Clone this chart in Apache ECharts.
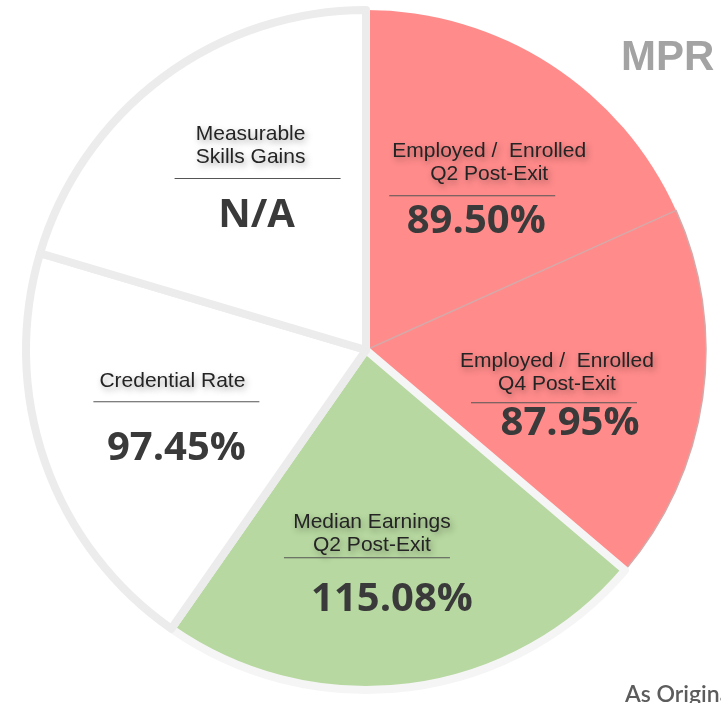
<!DOCTYPE html>
<html>
<head>
<meta charset="utf-8">
<script src="https://cdn.jsdelivr.net/npm/echarts@6/dist/echarts.min.js"></script>
<style>
html,body{margin:0;padding:0;background:#fff;}
#chart{width:721px;height:703px;}
</style>
</head>
<body>
<div id="chart"></div>
<script>
// ---- data ----
const categories = [
  'Employed /  Enrolled\nQ2 Post-Exit',
  'Employed /  Enrolled\nQ4 Post-Exit',
  'Median Earnings\nQ2 Post-Exit',
  'Credential Rate',
  'Measurable\nSkills Gains'
];
const valueLabels = ['89.50%', '87.95%', '115.08%', '97.45%', 'N/A'];
// slice sizes follow the rates; the N/A segment uses a 100 placeholder
const sliceValues = [89.50, 87.95, 115.08, 97.45, 100];
const status = ['below', 'below', 'above', 'none', 'none'];
const titleText = 'MPR';
const footText = 'As Originally Submitted';

// ---- styles / layout ----
const fill = { below: '#ff8b8b', above: '#b7d8a0', none: '#ffffff' };
const CX = 366, CY = 350, R = 340;
// per-segment label tuning:
// [offsetX, offsetY, gap above rule, gap below rule, title shift, value shift]
const labelTune = [
  [-4, 11, 9.5, 5, 17, 4],
  [-13, 18, 6.5, 0, 3, 16],
  [-25, 14, 0, 21, 5, 25],
  [2, 2, 8.5, 26, -4, 0],
  [13, -8, 8.5, 16, -7, -1]
];

function shiftPad(s) {
  return s >= 0 ? [0, 0, 0, 2 * s] : [0, -2 * s, 0, 0];
}

let belowCount = 0;
const shapeData = categories.map((name, i) => {
  let bc, bw;
  if (status[i] === 'below') {
    if (belowCount === 0) { bc = fill.below; bw = 0; } else { bc = '#d6a8a8'; bw = 1.5; }
    belowCount++;
  } else if (status[i] === 'above') { bc = '#f5f5f5'; bw = 8; }
  else { bc = '#ececec'; bw = 8; }
  return {
    name: name,
    value: sliceValues[i],
    itemStyle: { color: fill[status[i]], borderColor: bc, borderWidth: bw }
  };
});

const titleStyle = {
  fontFamily: 'Arial',
  fontSize: 21,
  color: '#242424',
  lineHeight: 23,
  align: 'center',
  textShadowColor: 'rgba(0,0,0,0.35)',
  textShadowBlur: 6,
  textShadowOffsetX: 2,
  textShadowOffsetY: 3
};
const valueStyle = {
  fontFamily: 'Open Sans',
  fontWeight: 'bold',
  fontSize: 40,
  color: '#3a3a3a',
  lineHeight: 40,
  align: 'center'
};
const rich = {
  hr: { width: 166, height: 1, backgroundColor: '#555555', lineHeight: 2, align: 'center' }
};

const labelData = categories.map((name, i) => {
  const tune = labelTune[i];
  rich['a' + i] = { fontSize: 1, lineHeight: tune[2] };
  rich['b' + i] = { fontSize: 1, lineHeight: tune[3] };
  rich['t' + i] = Object.assign({}, titleStyle, { padding: shiftPad(tune[4]) });
  rich['v' + i] = Object.assign({}, valueStyle, { padding: shiftPad(tune[5]) });
  let f = name.split('\n').map(s => '{t' + i + '|' + s + '}').join('\n');
  if (tune[2] > 0) f += '\n{a' + i + '| }';
  f += '\n{hr|}';
  if (tune[3] > 0) f += '\n{b' + i + '| }';
  f += '\n{v' + i + '|' + valueLabels[i] + '}';
  return {
    name: name,
    value: sliceValues[i],
    label: { formatter: f, offset: [tune[0], tune[1]] }
  };
});

const chart = echarts.init(document.getElementById('chart'), null, { renderer: 'canvas' });
chart.setOption({
  backgroundColor: '#ffffff',
  animation: false,
  graphic: [
    { type: 'text', left: 621, top: 37, style: { text: titleText, font: 'bold 42px Arial', fill: '#a3a3a3' } },
    { type: 'text', left: 625, top: 683, style: { text: footText, font: '600 23px Lato', fill: '#5c5c5c' } }
  ],
  series: [
    {
      type: 'pie',
      center: [CX, CY],
      radius: [0, R],
      startAngle: 90,
      clockwise: true,
      silent: true,
      label: { show: false },
      labelLine: { show: false },
      data: shapeData
    },
    {
      type: 'pie',
      center: [CX, CY],
      radius: [0, 400],
      startAngle: 90,
      clockwise: true,
      silent: true,
      itemStyle: { color: 'rgba(0,0,0,0)', borderWidth: 0 },
      labelLine: { show: false },
      label: {
        show: true,
        position: 'inside',
        align: 'center',
        rich: rich
      },
      data: labelData
    }
  ]
});
</script>
</body>
</html>
